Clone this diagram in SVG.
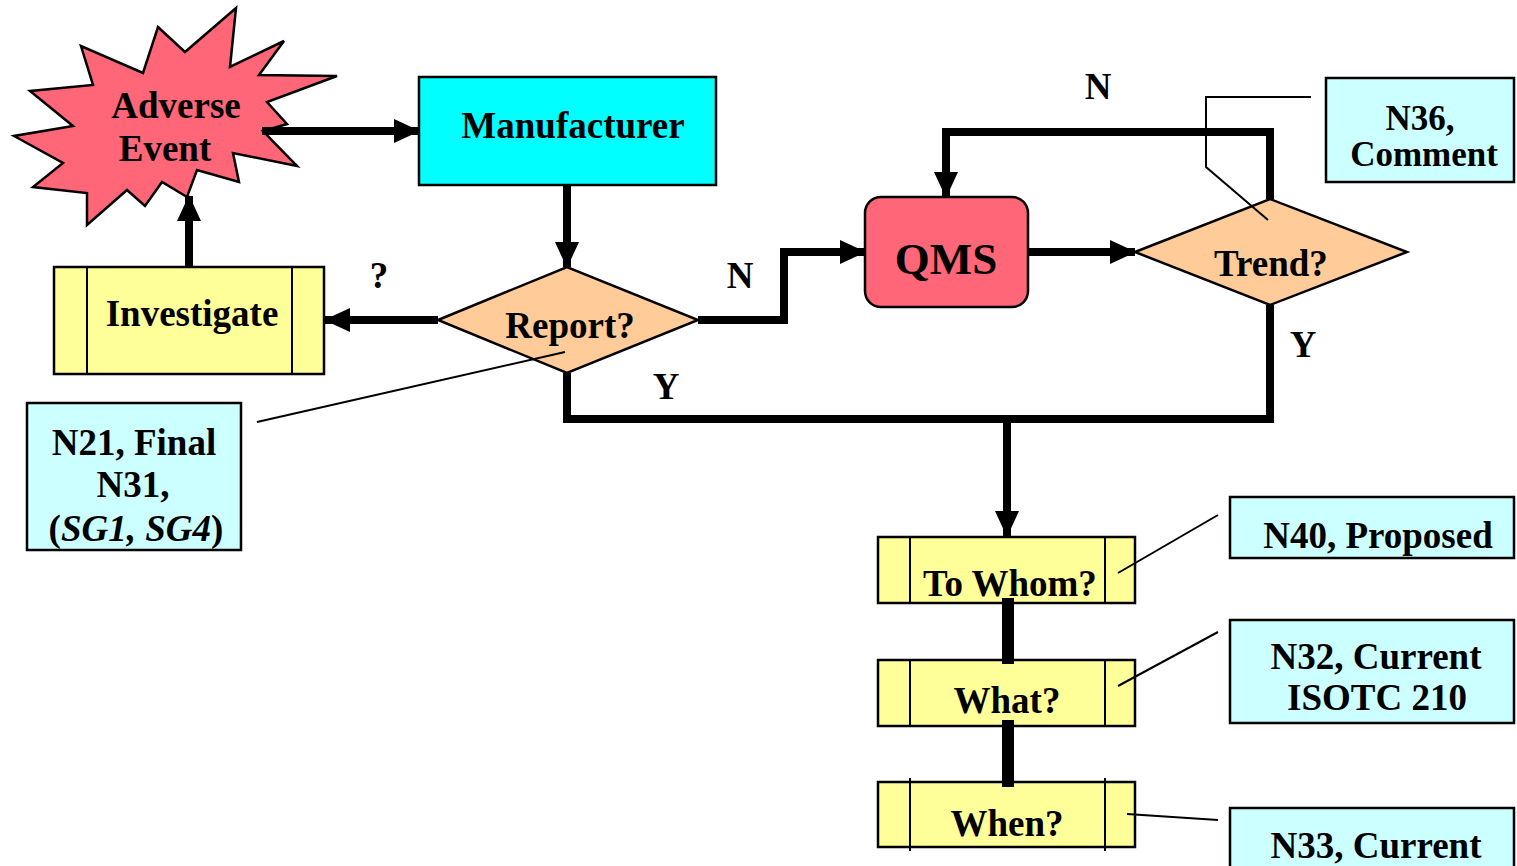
<svg xmlns="http://www.w3.org/2000/svg" width="1517" height="866" viewBox="0 0 1517 866">
<style>
text{font-family:"Liberation Serif","Times New Roman",serif;font-weight:bold;font-size:37px;fill:#000;text-anchor:middle}
.box{stroke:#000;stroke-width:2.5}
.note{fill:#CCFFFF;stroke:#000;stroke-width:2.5}
.proc{fill:#FFFF99;stroke:#000;stroke-width:2.5}
.dia{fill:#FFCC99;stroke:#000;stroke-width:2.5}
.inner{stroke:#000;stroke-width:2;fill:none}
.flow{fill:none;stroke:#000;stroke-width:8}
.bar{fill:none;stroke:#000;stroke-width:12}
.call{fill:none;stroke:#000;stroke-width:2}
</style>
<defs>
<marker id="ah" markerUnits="userSpaceOnUse" markerWidth="26" markerHeight="24" viewBox="0 0 26 24" refX="25" refY="12" orient="auto">
<path d="M0,0 L26,12 L0,24 Z" fill="#000"/>
</marker>
</defs>
<rect width="1517" height="866" fill="#fff"/>

<g id="adverse-event">
<polygon class="box" fill="#FF6677" points="236,8 230,67 284,41 259,75 337,76 267,102 287,124 263,131 297,166 233,153 239,182 197,170 187,197 162,182 145,206 127,190 87,225 87,193 33,187 63,163 14,136 73,126 30,91 93,85 81,46 143,73 158,27 185,52"/>
<text x="176" y="118">Adverse</text>
<text x="165" y="161">Event</text>
</g>

<g id="manufacturer">
<rect class="box" fill="#00FFFF" x="419" y="77" width="297" height="108"/>
<text x="573" y="138">Manufacturer</text>
</g>

<g id="investigate">
<rect class="proc" x="54" y="267" width="270" height="107"/>
<line class="inner" x1="87" y1="267" x2="87" y2="374"/>
<line class="inner" x1="292" y1="267" x2="292" y2="374"/>
<text x="192" y="326">Investigate</text>
</g>

<g id="report">
<polygon class="dia" points="438,320 567,267 698,320 567,373"/>
<text x="570" y="338">Report?</text>
</g>

<g id="qms">
<rect class="box" fill="#FF6677" x="865" y="197" width="163" height="110" rx="16"/>
<text x="946" y="274" style="font-size:45px">QMS</text>
</g>

<g id="trend">
<polygon class="dia" points="1135,252 1270,199 1407,252 1270,305"/>
<text x="1271" y="276">Trend?</text>
</g>

<g id="n36">
<rect class="note" x="1326" y="78" width="188" height="104"/>
<text x="1420" y="130" style="font-size:35px">N36,</text>
<text x="1424" y="166" style="font-size:35px">Comment</text>
</g>

<g id="n21">
<rect class="note" x="27" y="403" width="214" height="147"/>
<text x="134" y="455">N21, Final</text>
<text x="133" y="497">N31,</text>
<text x="136" y="541">(<tspan font-style="italic">SG1, SG4</tspan>)</text>
</g>

<g id="to-whom">
<rect class="proc" x="878" y="537" width="257" height="66"/>
<line class="inner" x1="910" y1="537" x2="910" y2="603"/>
<line class="inner" x1="1105" y1="537" x2="1105" y2="603"/>
<text x="1010" y="596">To Whom?</text>
</g>

<g id="what">
<rect class="proc" x="878" y="660" width="257" height="66"/>
<line class="inner" x1="910" y1="660" x2="910" y2="726"/>
<line class="inner" x1="1105" y1="660" x2="1105" y2="726"/>
<text x="1007" y="713">What?</text>
</g>

<g id="when">
<rect class="proc" x="878" y="782" width="257" height="65"/>
<line class="inner" x1="910" y1="778" x2="910" y2="851"/>
<line class="inner" x1="1105" y1="778" x2="1105" y2="851"/>
<text x="1007" y="836">When?</text>
</g>

<g id="n40">
<rect class="note" x="1230" y="497" width="284" height="61"/>
<text x="1378" y="548">N40, Proposed</text>
</g>

<g id="n32">
<rect class="note" x="1230" y="620" width="284" height="103"/>
<text x="1376" y="669">N32, Current</text>
<text x="1377" y="710">ISOTC 210</text>
</g>

<g id="n33">
<rect class="note" x="1230" y="808" width="284" height="70"/>
<text x="1376" y="858">N33, Current</text>
</g>

<g id="connectors">
<line class="flow" x1="262" y1="131" x2="419" y2="131" marker-end="url(#ah)"/>
<line class="flow" x1="567" y1="185" x2="567" y2="267" marker-end="url(#ah)"/>
<line class="flow" x1="438" y1="320" x2="325" y2="320" marker-end="url(#ah)"/>
<line class="flow" x1="189" y1="267" x2="189" y2="196" marker-end="url(#ah)"/>
<polyline class="flow" points="698,320 784,320 784,252 865,252" marker-end="url(#ah)"/>
<line class="flow" x1="1028" y1="252" x2="1135" y2="252" marker-end="url(#ah)"/>
<polyline class="flow" points="1270,199 1270,132 946,132 946,197" marker-end="url(#ah)"/>
<polyline class="flow" points="567,373 567,419 1270,419 1270,305"/>
<line class="flow" x1="1007" y1="419" x2="1007" y2="536" marker-end="url(#ah)"/>
<line class="bar" x1="1008" y1="598" x2="1008" y2="664"/>
<line class="bar" x1="1008" y1="720" x2="1008" y2="787"/>
<text x="379" y="288">?</text>
<text x="740" y="288">N</text>
<text x="1098" y="99">N</text>
<text x="666" y="399">Y</text>
<text x="1303" y="357">Y</text>
</g>

<g id="callouts">
<polyline class="call" points="1311,97 1206,97 1206,167 1268,220"/>
<line class="call" x1="565" y1="352" x2="257" y2="422"/>
<line class="call" x1="1218" y1="515" x2="1118" y2="573"/>
<line class="call" x1="1218" y1="632" x2="1118" y2="686"/>
<line class="call" x1="1218" y1="820" x2="1127" y2="814"/>
</g>
</svg>
